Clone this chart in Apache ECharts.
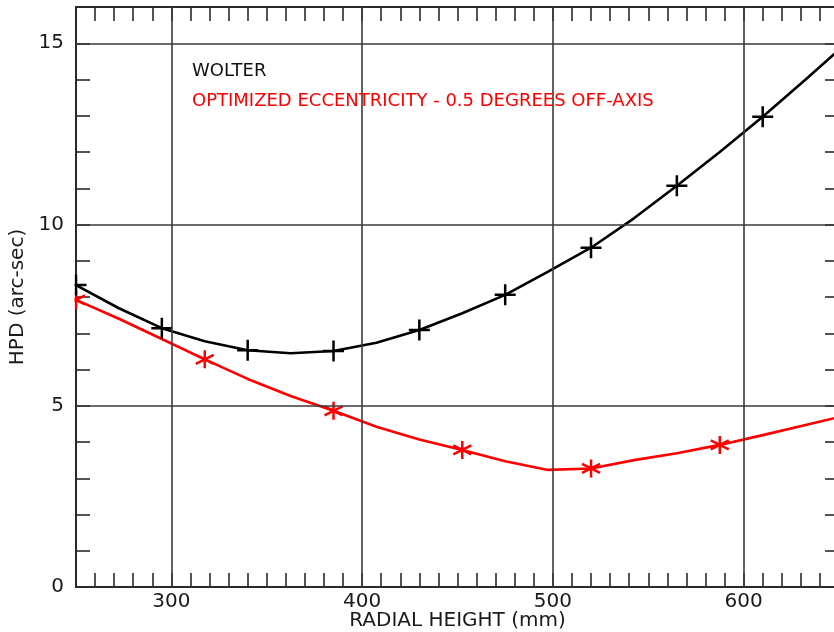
<!DOCTYPE html>
<html>
<head>
<meta charset="utf-8">
<script src="https://cdn.jsdelivr.net/npm/echarts@6/dist/echarts.min.js"></script>
<style>
  html, body { margin: 0; padding: 0; background: #fff; }
  #chart { width: 834px; height: 632px; }
</style>
</head>
<body>
<div id="chart"></div>
<script>
// ---- data ----
const radialHeight = [250, 272.5, 295, 317.5, 340, 362.5, 385, 407.5, 430, 452.5, 475, 497.5, 520, 542.5, 565, 587.5, 610, 632.5, 655];
const wolterHPD    = [8.33, 7.69, 7.14, 6.78, 6.53, 6.45, 6.51, 6.74, 7.09, 7.55, 8.06, 8.70, 9.36, 10.17, 11.07, 12.00, 12.97, 14.00, 15.05];
const optimizedHPD = [7.92, 7.40, 6.84, 6.28, 5.74, 5.27, 4.86, 4.42, 4.07, 3.78, 3.47, 3.23, 3.27, 3.50, 3.69, 3.92, 4.19, 4.47, 4.75];
const wolterMarkerEvery = 2;
const optimizedMarkerEvery = 3;

const wolterName = 'WOLTER';
const optimizedName = 'OPTIMIZED ECCENTRICITY - 0.5 DEGREES OFF-AXIS';
const xTitle = 'RADIAL HEIGHT (mm)';
const yTitle = 'HPD (arc-sec)';

const xRange = [250, 650];
const yRange = [0, 16];
const xMajorTicks = [300, 400, 500, 600];
const yMajorTicks = [5, 10, 15];
const xMinorStep = 10;
const yMinorStep = 1;

// ---- styling ----
const FONT = 'DejaVu Sans';
const AXIS_COLOR = '#2a2a2a';
const GRID_COLOR = '#3a3a3a';
const plusPath = 'path://M0,10L20,10M10,0L10,20';
const starPath = 'path://M10,0L10,20M1.34,5L18.66,15M1.34,15L18.66,5';

function makeData(ys, every, sym) {
  return radialHeight.map((x, i) => ({
    value: [x, ys[i]],
    symbol: (i % every === 0) ? sym : 'none'
  }));
}

const tickStyle = { show: true, inside: true, length: 14, lineStyle: { color: AXIS_COLOR, width: 1.6 } };
const lineStyleAxis = { show: true, onZero: false, lineStyle: { color: AXIS_COLOR, width: 2 } };

const chart = echarts.init(document.getElementById('chart'), null, { renderer: 'canvas' });
chart.setOption({
  animation: false,
  backgroundColor: '#fff',
  grid: { left: 76, top: 7, width: 763, height: 580, containLabel: false, outerBoundsMode: 'none' },
  xAxis: [
    {
      type: 'value', position: 'bottom', min: xRange[0], max: xRange[1], interval: xMinorStep,
      axisLine: lineStyleAxis, axisTick: tickStyle,
      axisLabel: {
        formatter: v => (xMajorTicks.indexOf(v) >= 0 ? String(v) : ''),
        fontFamily: FONT, fontSize: 20, color: '#1a1a1a', margin: 5
      },
      splitLine: { show: false },
      name: xTitle, nameLocation: 'middle', nameGap: 24, nameMoveOverlap: false,
      nameTextStyle: { fontFamily: FONT, fontSize: 20, color: '#1a1a1a' }
    },
    {
      type: 'value', position: 'top', min: xRange[0], max: xRange[1], interval: xMinorStep,
      axisLine: lineStyleAxis, axisTick: tickStyle, axisLabel: { show: false }, splitLine: { show: false }
    }
  ],
  yAxis: [
    {
      type: 'value', position: 'left', min: yRange[0], max: yRange[1], interval: yMinorStep,
      axisLine: lineStyleAxis, axisTick: tickStyle,
      axisLabel: {
        formatter: v => (v === 0 || yMajorTicks.indexOf(v) >= 0 ? String(v) : ''),
        fontFamily: FONT, fontSize: 20, color: '#1a1a1a', margin: 12
      },
      splitLine: { show: false },
      name: yTitle, nameLocation: 'middle', nameGap: 48, nameRotate: 90,
      nameTextStyle: { fontFamily: FONT, fontSize: 20, color: '#1a1a1a' }
    },
    {
      type: 'value', position: 'right', min: yRange[0], max: yRange[1], interval: yMinorStep,
      axisLine: lineStyleAxis, axisTick: tickStyle, axisLabel: { show: false }, splitLine: { show: false }
    }
  ],
  series: [
    {
      name: 'gridlines', type: 'line', data: [], z: 1, silent: true,
      markLine: {
        silent: true, symbol: ['none', 'none'], label: { show: false },
        lineStyle: { color: GRID_COLOR, width: 1.6, type: 'solid' },
        emphasis: { disabled: true },
        data: xMajorTicks.map(v => ({ xAxis: v })).concat(yMajorTicks.map(v => ({ yAxis: v })))
      }
    },
    {
      name: optimizedName, type: 'line', z: 3,
      data: makeData(optimizedHPD, optimizedMarkerEvery, starPath),
      symbolSize: 18, showSymbol: true,
      lineStyle: { color: '#ff0000', width: 2.6 },
      itemStyle: { color: '#ff0000', borderColor: '#ff0000', borderWidth: 2.5 },
      emphasis: { disabled: true }
    },
    {
      name: wolterName, type: 'line', z: 4,
      data: makeData(wolterHPD, wolterMarkerEvery, plusPath),
      symbolSize: 21, showSymbol: true,
      lineStyle: { color: '#000', width: 2.6 },
      itemStyle: { color: '#000', borderColor: '#000', borderWidth: 2.5 },
      emphasis: { disabled: true }
    }
  ],
  graphic: [
    { type: 'rect', z: 100, shape: { x: 55, y: 270, width: 19.5, height: 45 }, style: { fill: '#fff' }, silent: true },
    { type: 'text', z: 100, style: { text: wolterName, x: 192, y: 71, verticalAlign: 'middle', font: '18px "DejaVu Sans"', fill: '#111' } },
    { type: 'text', z: 100, style: { text: optimizedName, x: 192, y: 101, verticalAlign: 'middle', font: '18px "DejaVu Sans"', fill: '#ff0000' } }
  ]
});
</script>
</body>
</html>
